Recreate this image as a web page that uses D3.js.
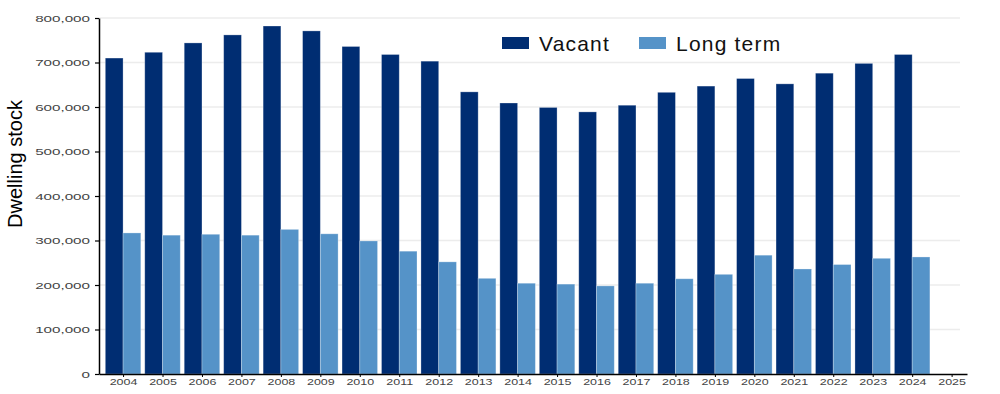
<!DOCTYPE html>
<html>
<head>
<meta charset="utf-8">
<script src="https://cdn.jsdelivr.net/npm/d3@7"></script>
<style>
  body { margin: 0; background: #fff; }
  svg { display: block; font-family: "Liberation Sans", Arial, sans-serif; }
</style>
</head>
<body>
<div id="graf"></div>
<script>
const years = [2004, 2005, 2006, 2007, 2008, 2009, 2010, 2011, 2012, 2013, 2014,
  2015, 2016, 2017, 2018, 2019, 2020, 2021, 2022, 2023, 2024];
const vacant = [710000, 723000, 744000, 762000, 782000, 771000, 736000, 718000, 703000, 634000, 609000,
  599000, 589000, 604000, 633000, 647000, 664000, 652000, 676000, 698000, 718000];
const longTerm = [317000, 312000, 314000, 312000, 325000, 315000, 299000, 276000, 252000, 215000, 204000,
  202000, 198000, 204000, 214000, 224000, 267000, 236000, 246000, 260000, 263000];
const xTicks = [2004, 2005, 2006, 2007, 2008, 2009, 2010, 2011, 2012, 2013, 2014,
  2015, 2016, 2017, 2018, 2019, 2020, 2021, 2022, 2023, 2024, 2025];
const yTicks = [0, 100000, 200000, 300000, 400000, 500000, 600000, 700000, 800000];
const seriesNames = ["Vacant", "Long term"];
const colores = ["#002d72", "#5593c8"];

const ancho_total = 1000;
const alto_total = 394;
const margins = { top: 18, left: 99, right: 33, bottom: 20 };
const ancho = ancho_total - margins.left - margins.right;
const alto = alto_total - margins.top - margins.bottom;

const svg = d3.select("#graf")
  .append("svg")
  .attr("width", ancho_total)
  .attr("height", alto_total)
  .append("g")
  .attr("transform", `translate(${margins.left}, ${margins.top})`);

const x = d3.scaleLinear().domain([2003.39, 2025.39]).range([0, ancho]);
const y = d3.scaleLinear().domain([0, 800000]).range([alto, 0]);
const barW = x(2004.45) - x(2004);

// gridlines
svg.append("g")
  .selectAll("line")
  .data(yTicks.slice(1))
  .join("line")
  .attr("x1", 0)
  .attr("x2", ancho - 7)
  .attr("y1", (d) => y(d))
  .attr("y2", (d) => y(d))
  .attr("stroke", "#ececec")
  .attr("stroke-width", 1.5);

// bars
const data = years.map((yr, i) => ({ year: yr, vals: [vacant[i], longTerm[i]] }));
const grupos = svg.append("g")
  .selectAll("g")
  .data(data)
  .join("g");

grupos.selectAll("rect")
  .data((d) => d.vals.map((v, k) => ({ year: d.year, v, k })))
  .join("rect")
  .attr("x", (d) => x(d.year) + (d.k === 0 ? -barW : 0))
  .attr("y", (d) => y(d.v))
  .attr("width", barW)
  .attr("height", (d) => y(0) - y(d.v))
  .attr("fill", (d) => colores[d.k])
  .attr("stroke", "#ffffff")
  .attr("stroke-opacity", 0.35)
  .attr("stroke-width", 0.8);

// y axis
const yAxis = svg.append("g")
  .call(d3.axisLeft(y).tickValues(yTicks).tickSize(4).tickSizeOuter(0).tickFormat(d3.format(",")));
yAxis.select(".domain").attr("stroke", "#000").attr("stroke-width", 1.5);
yAxis.selectAll(".tick line").attr("stroke", "#000").attr("stroke-width", 1.2);
yAxis.selectAll(".tick text")
  .attr("x", 0)
  .attr("transform", "translate(-9,0) scale(1.6,1)")
  .style("font-size", "9.5px")
  .attr("fill", "#444");

// x axis
const xAxis = svg.append("g")
  .attr("transform", `translate(0, ${alto})`)
  .call(d3.axisBottom(x).tickValues(xTicks).tickSize(3).tickSizeOuter(0).tickFormat(d3.format("d")));
xAxis.select(".domain").attr("stroke", "#000").attr("stroke-width", 1.5);
xAxis.selectAll(".tick line").attr("stroke", "#000");
xAxis.selectAll(".tick text")
  .attr("y", 5)
  .attr("transform", "scale(1.47,1)")
  .style("font-size", "8.5px")
  .attr("fill", "#444");

// y label
svg.append("text")
  .attr("transform", `translate(${15 - margins.left}, ${164 - margins.top}) rotate(-90)`)
  .attr("text-anchor", "middle")
  .attr("dominant-baseline", "central")
  .style("font-size", "20px")
  .attr("fill", "#000")
  .text("Dwelling stock");

// legend
const legendX = [502, 639];
const leyenda = svg.append("g")
  .selectAll("g")
  .data(seriesNames)
  .join("g")
  .attr("transform", (d, i) => `translate(${legendX[i] - margins.left}, ${43 - margins.top})`);
leyenda.append("rect")
  .attr("x", 0)
  .attr("y", -6)
  .attr("width", 27)
  .attr("height", 12)
  .attr("fill", (d, i) => colores[i]);
leyenda.append("text")
  .attr("x", 37)
  .attr("y", 0)
  .attr("dominant-baseline", "central")
  .style("font-size", "21px")
  .style("letter-spacing", "1.2px")
  .attr("fill", "#111")
  .text((d) => d);
</script>
</body>
</html>
